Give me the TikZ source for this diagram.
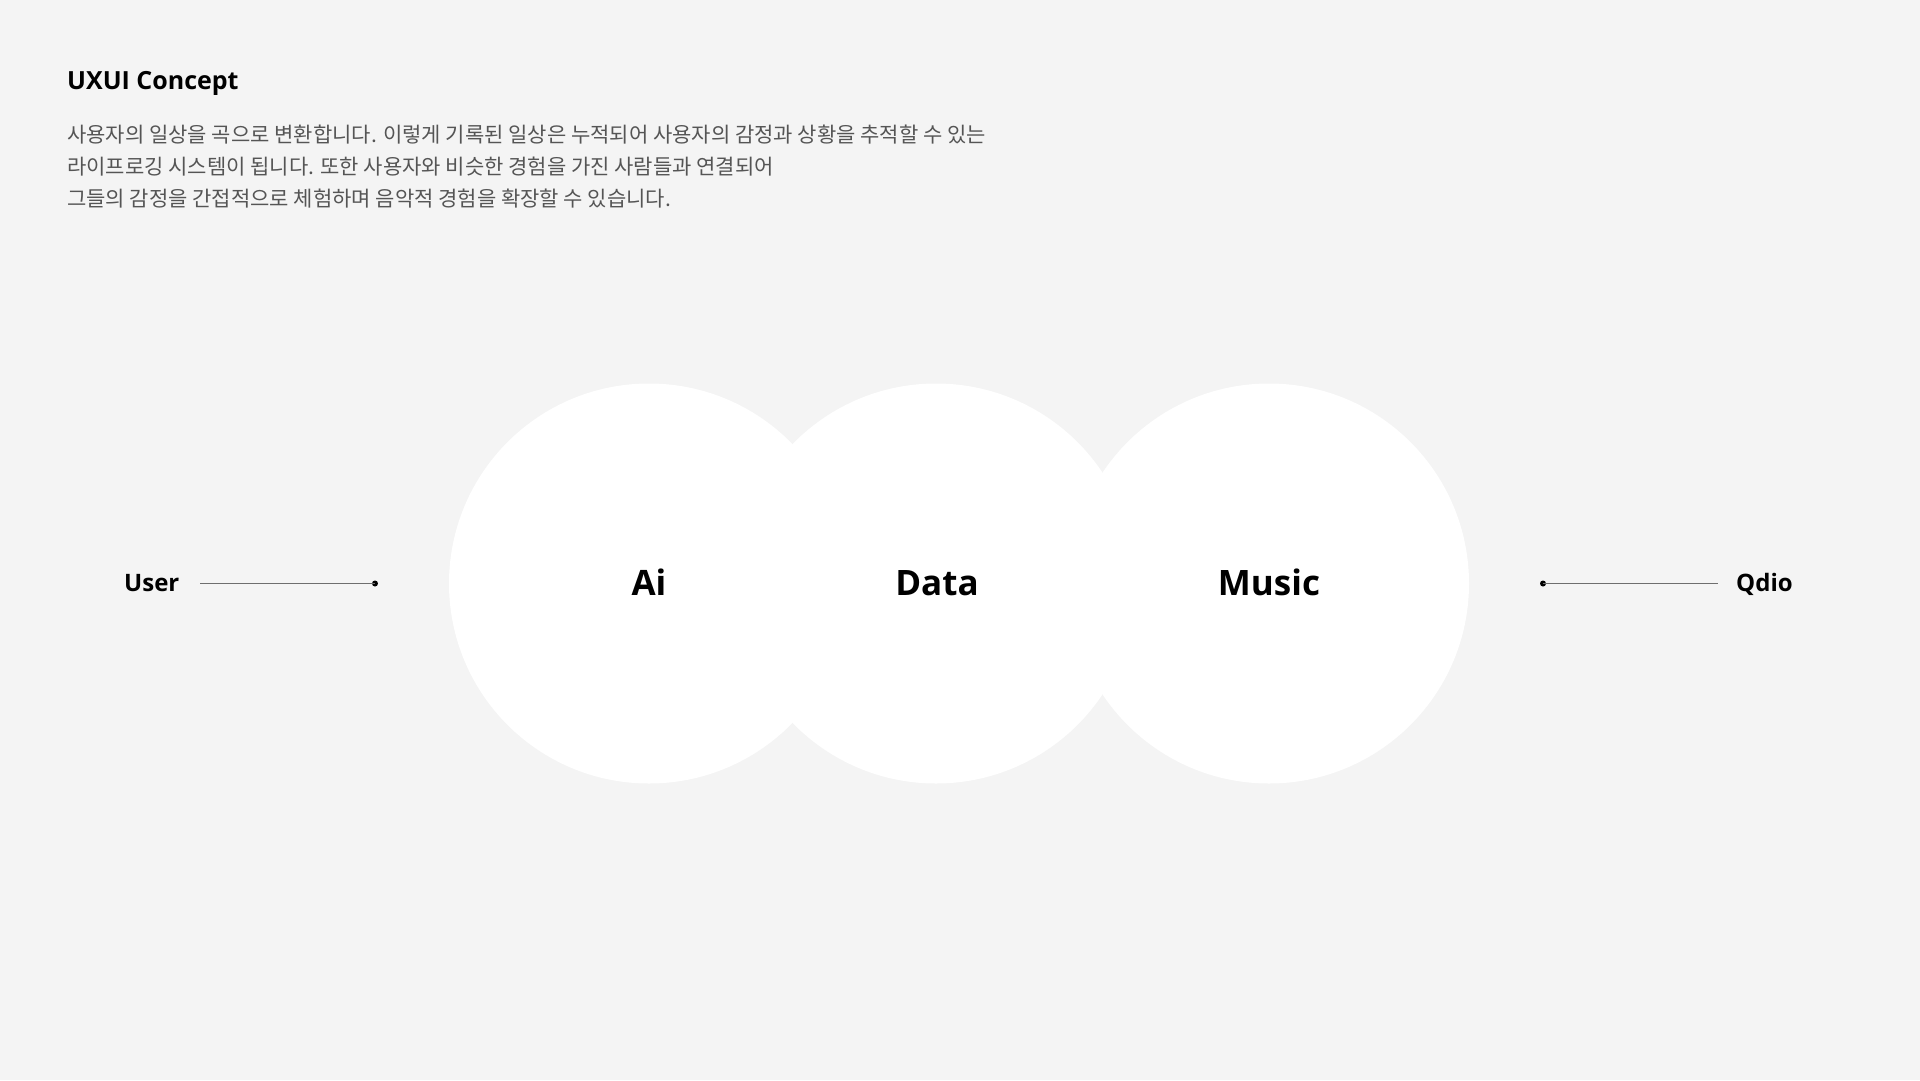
\documentclass[tikz,border=0pt]{standalone}
\usepackage{fontspec}
\setmainfont{Open Sans}
\newfontfamily\krfont{Noto Sans CJK KR}
\definecolor{paper}{HTML}{F4F4F4}
\definecolor{bodygray}{HTML}{555555}
\definecolor{wiregray}{HTML}{6E6E6E}
\tikzset{
	bubble/.style={circle,fill=white,inner sep=0pt,minimum size=400pt},
	bigword/.style={font=\fontsize{35}{40}\selectfont\bfseries,inner sep=0pt,anchor=base},
	sideword/.style={font=\fontsize{24}{30}\selectfont\bfseries,inner sep=0pt,anchor=base west},
	wire/.style={wiregray,line width=1.5pt},
	tipdot/.style={fill=black,circle,inner sep=0pt,minimum size=6pt}
}

\begin{document}
\begin{tikzpicture}[x=1pt,y=-1pt]
		% Page and background
		\fill[paper] (0,0) rectangle (1920,1080);
		\useasboundingbox (0,0) rectangle (1920,1080);

		% Heading and text block
		\node[font=\fontsize{25}{30}\selectfont\bfseries,inner sep=0pt,anchor=base west] (title) at (67,89) {UXUI Concept};
		\node[font=\krfont\fontsize{21}{32}\selectfont,text=bodygray,inner sep=0pt,anchor=base west,align=left] (intro) at (67,206.5)
			{사용자의 일상을 곡으로 변환합니다. 이렇게 기록된 일상은 누적되어 사용자의 감정과 상황을 추적할 수 있는\\
			라이프로깅 시스템이 됩니다. 또한 사용자와 비슷한 경험을 가진 사람들과 연결되어\\
			그들의 감정을 간접적으로 체험하며 음악적 경험을 확장할 수 있습니다.};

		% Three overlapping circles
		\node[bubble] (ai) at (649,583.5) {};
		\node[bubble] (data) at (936,583.5) {};
		\node[bubble] (music) at (1269,583.5) {};
		\node[bigword] (ailabel) at (649,595) {Ai};
		\node[bigword] (datalabel) at (937,595) {Data};
		\node[bigword] (musiclabel) at (1269,595) {Music};

		% Ends: User and Qdio
		\node[sideword] (user) at (124,591) {User};
		\coordinate (ustart) at (200,583.5);
		\node[tipdot] (udot) at (375,583.5) {};
		\draw[wire] (ustart) -- (udot.center);

		\node[sideword] (qdio) at (1736,591) {Qdio};
		\coordinate (qend) at (1718,583.5);
		\node[tipdot] (qdot) at (1543,583.5) {};
		\draw[wire] (qdot.center) -- (qend);
\end{tikzpicture}
\end{document}
